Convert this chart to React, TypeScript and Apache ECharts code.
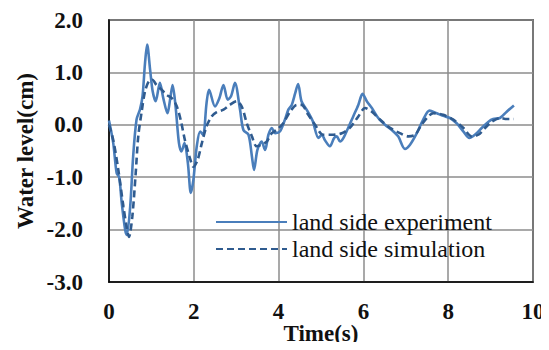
import React, { useEffect, useRef } from "react";
import * as echarts from "echarts";

// Time (s) and water level (cm) samples for the land side gauge
const expTime = [
  0.0, 0.1, 0.18, 0.24, 0.3, 0.38, 0.42, 0.5, 0.57, 0.65, 0.73, 0.79, 0.85, 0.9, 0.97,
  1.03, 1.1, 1.2, 1.28, 1.38, 1.44, 1.5, 1.57, 1.65, 1.71, 1.78, 1.86, 1.93, 1.99,
  2.07, 2.15, 2.22, 2.3, 2.36, 2.5, 2.6, 2.7, 2.8, 2.88, 2.97, 3.09, 3.17, 3.29,
  3.37, 3.42, 3.5, 3.6, 3.68, 3.76, 3.84, 3.92, 4.03, 4.15, 4.23, 4.31, 4.39, 4.46,
  4.54, 4.66, 4.8, 4.94, 5.02, 5.09, 5.21, 5.31, 5.37, 5.45, 5.53, 5.64, 5.76, 5.88,
  5.98, 6.08, 6.2, 6.35, 6.51, 6.67, 6.82, 6.98, 7.1, 7.26, 7.41, 7.56, 7.73, 7.88,
  8.04, 8.2, 8.36, 8.5, 8.63, 8.79, 8.95, 9.06, 9.22, 9.38, 9.55,
];
const expLevel = [
  0.08, -0.35, -0.92, -1.0, -1.49, -2.0, -2.1, -1.56, -0.6, 0.1, 0.29, 0.54, 1.18, 1.53, 1.05,
  0.64, 0.45, 0.8, 0.51, 0.22, 0.48, 0.76, 0.35, -0.35, -0.51, -0.35, -0.73, -1.3, -1.05,
  -0.41, -0.13, -0.19, 0.41, 0.67, 0.35, 0.5, 0.76, 0.48, 0.55, 0.8, 0.29, -0.1, -0.19,
  -0.6, -0.86, -0.48, -0.32, -0.48, -0.19, -0.06, -0.16, -0.13, 0.1, 0.29, 0.38, 0.6, 0.78,
  0.45, 0.29, 0.08, -0.25, -0.19, -0.29, -0.41, -0.25, -0.22, -0.32, -0.25, -0.06, 0.16, 0.38,
  0.59, 0.45, 0.32, 0.13, 0.0, -0.1, -0.22, -0.46, -0.38, -0.16, 0.1, 0.27, 0.22, 0.17,
  0.13, 0.03, -0.13, -0.25, -0.19, -0.06, 0.06, 0.11, 0.13, 0.25, 0.37,
];

const simTime = [
  0.0, 0.1, 0.22, 0.34, 0.42, 0.47, 0.55, 0.63, 0.69, 0.77, 0.85, 0.94, 1.02, 1.12,
  1.24, 1.36, 1.48, 1.6, 1.7, 1.79, 1.91, 1.99, 2.09, 2.19, 2.3, 2.42, 2.54, 2.7,
  2.85, 3.01, 3.13, 3.25, 3.37, 3.48, 3.6, 3.72, 3.84, 3.95, 4.11, 4.27, 4.43, 4.54,
  4.7, 4.86, 5.05, 5.29, 5.49, 5.68, 5.88, 6.04, 6.2, 6.39, 6.63, 6.86, 7.06, 7.22,
  7.37, 7.53, 7.65, 7.88, 8.12, 8.36, 8.55, 8.71, 8.87, 9.03, 9.22, 9.38, 9.55,
];
const simLevel = [
  0.0, -0.29, -0.86, -1.56, -1.97, -2.14, -1.75, -0.92, -0.22, 0.25, 0.64, 0.83, 0.86, 0.76,
  0.67, 0.57, 0.51, 0.35, 0.06, -0.29, -0.64, -0.8, -0.67, -0.35, -0.03, 0.16, 0.24, 0.29,
  0.38, 0.45, 0.35, 0.03, -0.22, -0.41, -0.38, -0.32, -0.16, -0.1, 0.03, 0.25, 0.38, 0.38,
  0.19, 0.0, -0.19, -0.19, -0.16, -0.06, 0.16, 0.32, 0.25, 0.1, -0.06, -0.16, -0.22, -0.19,
  0.0, 0.16, 0.22, 0.19, 0.1, -0.06, -0.22, -0.19, -0.06, 0.06, 0.13, 0.11, 0.11,
];

const xTicks = { min: 0, max: 10, step: 2 };
const yTicks = { min: -3, max: 2, step: 1 };

const seriesNames = ["land side experiment", "land side simulation"];

const FONT = "Liberation Serif";

export default function App() {
  const ref = useRef<HTMLDivElement>(null);

  useEffect(() => {
    if (!ref.current) return;
    const chart = echarts.init(ref.current, null, { renderer: "svg" });
    const pair = (ts: number[], vs: number[]) => ts.map((t, i) => [t, vs[i]]);

    chart.setOption({
      animation: false,
      backgroundColor: "#ffffff",
      textStyle: { fontFamily: FONT },
      grid: {
        left: 109,
        right: 16,
        top: 20,
        bottom: 68,
        outerBoundsMode: "none",
        containLabel: false,
        show: true,
        borderColor: "#000000",
        borderWidth: 1.5,
        backgroundColor: "transparent",
      },
      legend: {
        orient: "vertical",
        left: 210,
        top: 205,
        itemWidth: 71,
        itemHeight: 14,
        itemGap: 3,
        itemStyle: { color: "rgba(0,0,0,0)", borderWidth: 0 },
        textStyle: { fontFamily: FONT, fontSize: 24, color: "#111111" },
        data: [seriesNames[0], seriesNames[1]],
      },
      xAxis: {
        type: "value",
        min: xTicks.min,
        max: xTicks.max,
        interval: xTicks.step,
        name: "Time(s)",
        nameLocation: "middle",
        nameGap: 40,
        nameMoveOverlap: false,
        nameTextStyle: { fontFamily: FONT, fontSize: 23, fontWeight: "bold", color: "#111111" },
        axisLine: { show: true, onZero: false, lineStyle: { color: "#000000", width: 1.5 } },
        axisTick: { show: false },
        axisLabel: { fontFamily: FONT, fontSize: 23, fontWeight: "bold", color: "#111111", margin: 18 },
        splitLine: { show: true, lineStyle: { color: "#8c8c8c", width: 1.5 } },
      },
      yAxis: {
        type: "value",
        min: yTicks.min,
        max: yTicks.max,
        interval: yTicks.step,
        name: "Water level(cm)",
        nameLocation: "middle",
        nameGap: 72,
        nameMoveOverlap: false,
        nameTextStyle: { fontFamily: FONT, fontSize: 23, fontWeight: "bold", color: "#111111" },
        axisLine: { show: true, onZero: false, lineStyle: { color: "#000000", width: 1.5 } },
        axisTick: { show: false },
        axisLabel: {
          fontFamily: FONT,
          fontSize: 23,
          fontWeight: "bold",
          color: "#111111",
          margin: 26,
          formatter: (v: number) => v.toFixed(1),
        },
        splitLine: { show: true, lineStyle: { color: "#8c8c8c", width: 1.5 } },
      },
      series: [
        {
          name: seriesNames[0],
          type: "line",
          data: pair(expTime, expLevel),
          symbol: "none",
          smooth: 0.3,
          lineStyle: { color: "#4a7ebb", width: 2.6 },
          itemStyle: { color: "#4a7ebb" },
          z: 3,
        },
        {
          name: seriesNames[1],
          type: "line",
          data: pair(simTime, simLevel),
          symbol: "none",
          smooth: 0.3,
          lineStyle: { color: "#2f5b8f", width: 2.6, type: [7, 4] },
          itemStyle: { color: "#2f5b8f" },
          z: 4,
        },
      ],
    });

    return () => chart.dispose();
  }, []);

  return <div ref={ref} style={{ width: 549, height: 350, margin: -8 }} />;
}
